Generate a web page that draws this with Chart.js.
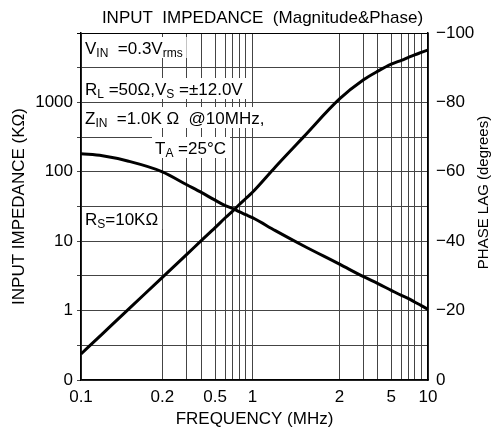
<!DOCTYPE html>
<html>
<head>
<meta charset="utf-8">
<script src="https://cdn.jsdelivr.net/npm/chart.js@4.4.1/dist/chart.umd.min.js"></script>
<style>
  html, body { margin: 0; padding: 0; background: #fff; }
  #wrap { width: 494px; height: 434px; }
</style>
</head>
<body>
<div id="wrap"><canvas id="impedanceChart" width="494" height="434"></canvas></div>
<script>
// frequency points (MHz) shared by both curves
const freqMHz = [0.1, 0.12, 0.15, 0.2, 0.3, 0.4, 0.5, 0.6, 0.7, 0.8, 0.9, 1, 1.2, 1.5, 2, 3, 4, 5, 6, 7, 8, 9, 10];
// input impedance magnitude, K ohm (left axis)
const impedanceK = [182, 170, 142, 100, 65, 50, 39, 32.4, 29.8, 26.6, 24.1, 21.8, 14.2, 8.6, 4.67, 3.08, 2.45, 1.96, 1.64, 1.49, 1.33, 1.18, 1.04];
// phase lag, degrees (right axis)
const phaseLagDeg = [-7.5, -13.3, -20.4, -29.6, -36.2, -40.3, -43.9, -46.9, -48.6, -50.5, -52.3, -54.1, -61.4, -70, -81, -86.5, -89, -91, -92.2, -93, -93.7, -94.4, -95.1];

// frequency grid lines and the ones that carry a label
const freqGrid = [0.1, 0.2, 0.3, 0.4, 0.5, 0.6, 0.7, 0.8, 0.9, 1, 2, 3, 4, 5, 6, 7, 8, 9, 10];
const freqLabels = [0.1, 0.2, 0.5, 1, 2, 5, 10];
const impLabels = [0.1, 1, 10, 100, 1000];
const impLabelText = ['0', '1', '10', '100', '1000'];
const phaseLabels = [0, -20, -40, -60, -80, -100];

// the printed graph paper is not a true log scale: where each freq grid line sits (0..1 of width)
const freqGridPos = [0, 0.2345, 0.3049, 0.3481, 0.3865, 0.4174, 0.4364, 0.4557, 0.475, 0.4941,
                     0.745, 0.8142, 0.8558, 0.8941, 0.925, 0.944, 0.9614, 0.9807, 1];

const FONT = '"Liberation Sans", Arial, sans-serif';
Chart.defaults.font.family = FONT;
Chart.defaults.font.size = 17;
Chart.defaults.color = '#000';

const logGrid = freqGrid.map(Math.log10);

function warp(v) {
    const lv = Math.log10(v);
    let i = 0;
    while (i < logGrid.length - 2 && lv > logGrid[i + 1]) i++;
    const t = (lv - logGrid[i]) / (logGrid[i + 1] - logGrid[i]);
    return freqGridPos[i] + t * (freqGridPos[i + 1] - freqGridPos[i]);
}

function unwarp(d) {
    let i = 0;
    while (i < freqGridPos.length - 2 && d > freqGridPos[i + 1]) i++;
    const t = (d - freqGridPos[i]) / (freqGridPos[i + 1] - freqGridPos[i]);
    return Math.pow(10, logGrid[i] + t * (logGrid[i + 1] - logGrid[i]));
}

// log axis that follows the datasheet's own grid spacing
class WarpedLogScale extends Chart.LogarithmicScale {
    getPixelForValue(value) {
        if (value === null || value === undefined || isNaN(value)) return NaN;
        return this.getPixelForDecimal(warp(value));
    }
    getValueForPixel(pixel) {
        return unwarp(this.getDecimalForPixel(pixel));
    }
}
WarpedLogScale.id = 'warpedLog';
WarpedLogScale.defaults = Chart.LogarithmicScale.defaults;
Chart.register(WarpedLogScale);

// condition notes written on the graph: [text, 'sub'] parts
const notes = [
    { dx: 4, base: 21, edge: true, parts: [['V'], ['IN', 'sub'], ['  =0.3V'], ['rms', 'sub']] },
    { dx: 4, base: 62, edge: true, parts: [['R'], ['L', 'sub'], [' =50\u03A9,V'], ['S', 'sub'], [' =\u00B112.0V']] },
    { dx: 4, base: 91, edge: true, parts: [['Z'], ['IN', 'sub'], ['  =1.0K \u03A9  @10MHz,']] },
    { dx: 74, base: 121, edge: false, parts: [['T'], ['A', 'sub'], [' =25\u00B0C']] },
    { dx: 4, base: 192, edge: true, parts: [['R'], ['S', 'sub'], ['=10K\u03A9']] }
];

function richText(ctx, x, y, parts, draw) {
    let cx = x;
    parts.forEach(([text, kind]) => {
        ctx.font = kind === 'sub' ? '12px ' + FONT : '17px ' + FONT;
        if (draw) ctx.fillText(text, cx, kind === 'sub' ? y + 3 : y);
        cx += ctx.measureText(text).width;
    });
    return cx - x;
}

const graphText = {
    id: 'graphText',
    beforeDatasetsDraw(chart) {
        const { ctx, chartArea: a } = chart;
        ctx.save();
        ctx.textBaseline = 'alphabetic';
        notes.forEach(n => {
            const x = a.left + n.dx;
            const y = a.top + n.base;
            const w = richText(ctx, x, y, n.parts, false);
            const bx = n.edge ? a.left + 1 : x - 3;
            ctx.fillStyle = '#fff';
            ctx.fillRect(bx, y - 17, x + w + 4 - bx, 21);
            ctx.fillStyle = '#000';
            richText(ctx, x, y, n.parts, true);
        });
        ctx.restore();
    },
    afterDraw(chart) {
        const { ctx, chartArea: a } = chart;
        ctx.save();
        ctx.fillStyle = '#000';
        ctx.textAlign = 'center';
        ctx.textBaseline = 'middle';
        ctx.font = '17px ' + FONT;
        ctx.fillText('INPUT  IMPEDANCE  (Magnitude&Phase)', (a.left + a.right) / 2 + 8, 18);
        // right axis title reads bottom to top
        ctx.translate(a.right + 56, (a.top + a.bottom) / 2 - 14);
        ctx.rotate(-Math.PI / 2);
        ctx.font = '15px ' + FONT;
        ctx.fillText('PHASE LAG (degrees)', 0, 0);
        ctx.restore();
    }
};

const gridColor = '#444';

new Chart(document.getElementById('impedanceChart'), {
    type: 'line',
    data: {
        datasets: [{
            label: 'Magnitude',
            data: freqMHz.map((f, i) => ({ x: f, y: impedanceK[i] })),
            yAxisID: 'yImp',
            borderColor: '#000',
            borderWidth: 3,
            pointRadius: 0,
            cubicInterpolationMode: 'monotone',
            fill: false
        }, {
            label: 'Phase',
            data: freqMHz.map((f, i) => ({ x: f, y: phaseLagDeg[i] })),
            yAxisID: 'yPhase',
            borderColor: '#000',
            borderWidth: 3,
            pointRadius: 0,
            cubicInterpolationMode: 'monotone',
            fill: false
        }]
    },
    options: {
        responsive: false,
        animation: false,
        layout: { padding: { top: 33, left: 0, right: 0, bottom: 0 } },
        plugins: {
            legend: { display: false },
            tooltip: { enabled: false },
            title: { display: false }
        },
        scales: {
            x: {
                type: 'warpedLog',
                min: 0.1,
                max: 10,
                afterBuildTicks: (axis) => { axis.ticks = freqGrid.map(v => ({ value: v })); },
                afterFit: (axis) => { axis.height = 54; },
                ticks: {
                    autoSkip: false,
                    maxRotation: 0,
                    padding: 7,
                    callback: (v) => freqLabels.includes(v) ? String(v) : ''
                },
                grid: { color: gridColor, lineWidth: 1, drawTicks: false },
                border: { color: '#000', width: 1.5 },
                title: { display: true, text: 'FREQUENCY (MHz)', font: { size: 17 }, padding: { top: 0, bottom: 4 } }
            },
            yImp: {
                type: 'logarithmic',
                position: 'left',
                min: 0.1,
                max: 10000,
                afterBuildTicks: (axis) => {
                    const t = [];
                    for (let k = -2; k <= 8; k++) t.push({ value: Math.pow(10, k / 2) });
                    axis.ticks = t;
                },
                afterFit: (axis) => { axis.width = 81; },
                ticks: {
                    autoSkip: false,
                    padding: 4,
                    callback: (v) => {
                        const i = impLabels.findIndex(l => Math.abs(l - v) / l < 1e-6);
                        return i >= 0 ? impLabelText[i] : '';
                    }
                },
                grid: {
                    color: (c) => (c.tick && c.tick.value === 10000) ? '#000' : gridColor,
                    lineWidth: 1,
                    tickLength: 4
                },
                border: { color: '#000', width: 1.5 },
                title: { display: true, text: 'INPUT IMPEDANCE (K\u03A9)', font: { size: 17 }, padding: { top: 9 } }
            },
            yPhase: {
                type: 'linear',
                position: 'right',
                min: -100,
                max: 0,
                reverse: true,
                afterFit: (axis) => { axis.width = 66; },
                ticks: {
                    stepSize: 10,
                    autoSkip: false,
                    padding: 8,
                    crossAlign: 'near',
                    callback: (v) => phaseLabels.includes(v) ? (v === 0 ? '0' : '\u2212' + Math.abs(v)) : ''
                },
                grid: { display: false, drawTicks: false },
                border: { color: '#000', width: 1.5 }
            }
        }
    },
    plugins: [graphText]
});
</script>
</body>
</html>
